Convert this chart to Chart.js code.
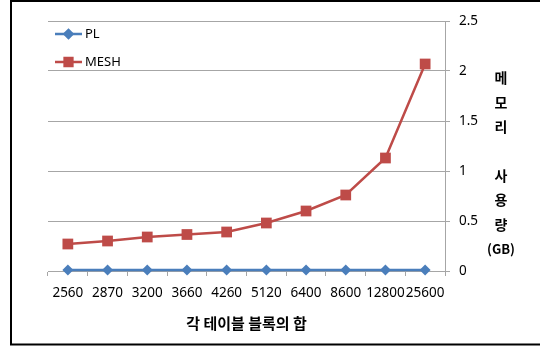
<!DOCTYPE html>
<html>
<head>
<meta charset="utf-8">
<script src="https://cdn.jsdelivr.net/npm/chart.js@4/dist/chart.umd.min.js"></script>
<style>
html,body{margin:0;padding:0;background:#fff;}
#wrap{position:relative;width:540px;height:347px;}
</style>
</head>
<body>
<div id="wrap"><canvas id="c" width="540" height="347"></canvas></div>
<script>
const categories = ['2560','2870','3200','3660','4260','5120','6400','8600','12800','25600'];
const plValues   = [0.01,0.01,0.01,0.01,0.01,0.01,0.01,0.01,0.01,0.01];
const meshValues = [0.27,0.30,0.34,0.365,0.39,0.48,0.60,0.76,1.13,2.07];
const yTicks = [0,0.5,1,1.5,2,2.5];
const yTickLabels = ['0','0.5','1','1.5','2','2.5'];
const seriesNames = ['PL','MESH'];
const xTitle = '각 테이블 블록의 합';
const yTitleLines = ['메','모','리','','사','용','량','(GB)'];

const BLUE = '#4A7EBB';
const RED = '#BE4B48';
const GRID = '#A6A6A6';

const framePlugin = {
  id: 'frame',
  afterDraw(chart) {
    const ctx = chart.ctx;
    ctx.save();
    ctx.strokeStyle = '#000';
    ctx.lineWidth = 2;
    ctx.beginPath();
    ctx.moveTo(540, 1); ctx.lineTo(11, 1); ctx.lineTo(11, 344.5); ctx.lineTo(540, 344.5);
    ctx.stroke();
    // vertical stacked y-axis title
    ctx.fillStyle = '#000';
    ctx.textAlign = 'center';
    ctx.textBaseline = 'middle';
    let y = 78;
    yTitleLines.forEach((t) => {
      if (t) {
        ctx.font = (t.length > 1 ? 'bold 13px' : 'bold 14px') + ' "Noto Sans CJK KR", "Noto Sans", sans-serif';
        ctx.fillText(t, 501, y);
      }
      y += 24.4;
    });
    // legend inside plot area
    const items = [
      {name: seriesNames[0], color: BLUE, style: 'rectRot', r: 4, y: 34},
      {name: seriesNames[1], color: RED, style: 'rect', r: 5.5, y: 62}
    ];
    items.forEach(it => {
      ctx.strokeStyle = it.color;
      ctx.lineWidth = 2.5;
      ctx.beginPath(); ctx.moveTo(55, it.y); ctx.lineTo(82, it.y); ctx.stroke();
      Chart.helpers.drawPoint(ctx, {pointStyle: it.style, radius: it.r, borderWidth: 1}, 68.5, it.y);
      ctx.fillStyle = it.color;
      ctx.fill();
      ctx.fillStyle = '#000';
      ctx.textAlign = 'left';
      ctx.font = '13px "Noto Sans", sans-serif';
      ctx.fillText(it.name, 85, it.y);
    });
    ctx.restore();
  }
};

new Chart(document.getElementById('c'), {
  type: 'line',
  data: {
    labels: categories,
    datasets: [
      {label: seriesNames[0], data: plValues, borderColor: BLUE, backgroundColor: BLUE,
       borderWidth: 2.5, pointStyle: 'rectRot', pointRadius: 5.5, pointBorderWidth: 0,
       pointBackgroundColor: BLUE, tension: 0, clip: false},
      {label: seriesNames[1], data: meshValues, borderColor: RED, backgroundColor: RED,
       borderWidth: 2.5, pointStyle: 'rect', pointRadius: 7.6, pointBorderWidth: 0,
       pointBackgroundColor: RED, tension: 0, clip: false}
    ]
  },
  options: {
    responsive: false,
    animation: false,
    events: [],
    layout: {padding: {left: 48, top: 21, right: 0, bottom: 0}},
    plugins: {legend: {display: false}, tooltip: {enabled: false}},
    scales: {
      x: {
        offset: true,
        afterFit(s) { s.height = 76; },
        grid: {offset: true, drawOnChartArea: false, drawTicks: true, tickLength: 5, color: GRID},
        border: {display: true, color: GRID, width: 1},
        ticks: {autoSkip: false, maxRotation: 0, minRotation: 0, padding: 9, color: '#000',
                font: {family: '"Noto Sans", sans-serif', size: 13.5}},
        title: {display: true, text: xTitle, color: '#000', padding: {top: 0, bottom: 15},
                font: {family: '"Noto Sans CJK KR", sans-serif', size: 15, weight: 'bold'}}
      },
      y: {
        position: 'right',
        min: 0, max: 2.5,
        afterFit(s) { s.width = 95; },
        afterBuildTicks(s) { s.ticks = yTicks.map(v => ({value: v})); },
        grid: {color: GRID, lineWidth: 1, tickLength: 5, drawTicks: true},
        border: {display: true, color: GRID, width: 1},
        ticks: {padding: 9, color: '#000', font: {family: '"Noto Sans", sans-serif', size: 13.5},
                callback: (v, i) => yTickLabels[i]}
      }
    }
  },
  plugins: [framePlugin]
});
</script>
</body>
</html>
